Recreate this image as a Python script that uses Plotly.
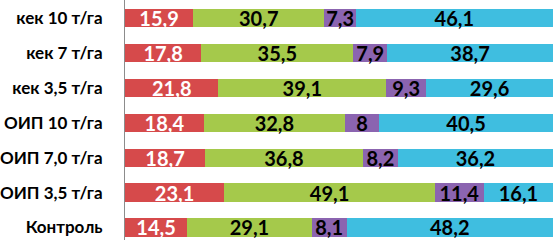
import plotly.graph_objects as go

categories = ["Контроль", "ОИП 3,5 т/га", "ОИП 7,0 т/га", "ОИП 10 т/га",
              "кек 3,5 т/га", "кек 7 т/га", "кек 10 т/га"]
s1 = [14.5, 23.1, 18.7, 18.4, 21.8, 17.8, 15.9]
s2 = [29.1, 49.1, 36.8, 32.8, 39.1, 35.5, 30.7]
s3 = [8.1, 11.4, 8.2, 8, 9.3, 7.9, 7.3]
s4 = [48.2, 16.1, 36.2, 40.5, 29.6, 38.7, 46.1]

series = [
    (s1, "#D64A4B", "white"),
    (s2, "#A5C94B", "black"),
    (s3, "#8B64B0", "black"),
    (s4, "#3FBEE0", "black"),
]

def fmt(v):
    return (("%g" % v)).replace(".", ",")

fig = go.Figure()
for vals, col, tcol in series:
    fig.add_trace(go.Bar(
        y=categories, x=vals, orientation="h",
        marker=dict(color=col, line=dict(width=0)),
        text=[fmt(v) for v in vals], textposition="inside",
        insidetextanchor="middle", textangle=0,
        textfont=dict(family="Lato", size=20, color=tcol, weight="bold"),
        constraintext="none",
    ))

fig.update_layout(
    barmode="stack", barnorm="percent", bargap=0.48,
    width=559, height=240, margin=dict(l=122, r=6, t=0, b=0),
    plot_bgcolor="white", paper_bgcolor="white", showlegend=False,
    uniformtext=dict(minsize=20, mode="show"),
    xaxis=dict(range=[0, 100], showgrid=False, showticklabels=False,
               zeroline=False, showline=False, fixedrange=True),
    yaxis=dict(type="category", range=[-0.36, 6.52], showgrid=False,
               showline=True, linecolor="#8c8c8c", linewidth=1,
               ticks="", ticklabelstandoff=18,
               tickfont=dict(family="Lato", size=17, color="black", weight="bold")),
)
fig.write_html("out.html")
